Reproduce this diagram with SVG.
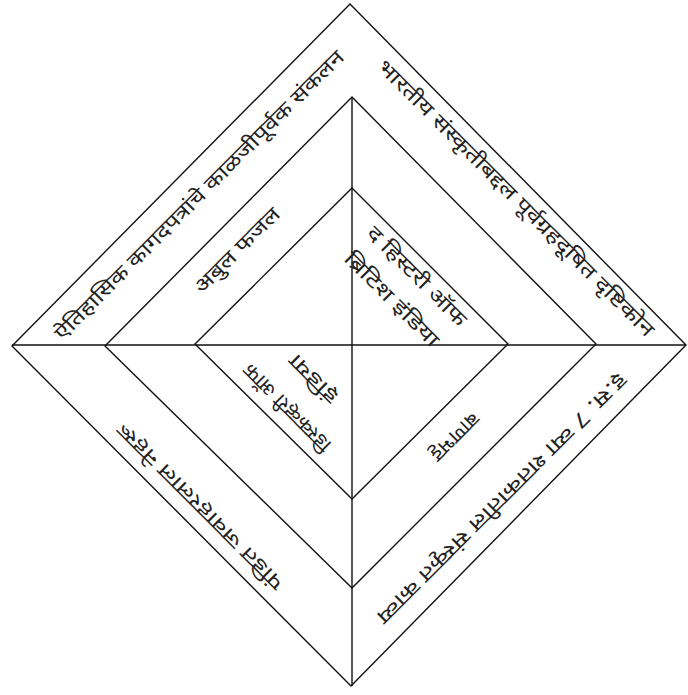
<svg xmlns="http://www.w3.org/2000/svg" width="688" height="695" viewBox="0 0 688 695">
<style>
.ln{fill:none;stroke:#111;stroke-width:1.4}
.t{font-family:"Noto Sans Devanagari","Noto Sans","Lohit Devanagari","FreeSans",sans-serif;font-size:20px;fill:#222;text-anchor:middle}
</style>
<rect width="688" height="695" fill="#fff"/>
<g id="connectors">
<path class="ln" d="M350,4 L686,345 L351,686 L12,346 Z"/>
<path class="ln" d="M352,97 L596,344 L352,588 L105,346 Z"/>
<path class="ln" d="M352,188 L508,344 L352,499 L195,344 Z"/>
<path class="ln" d="M12,345 L686,345"/>
<path class="ln" d="M352,97 L352,686"/>
</g>
<g id="ul-outer"><text class="t" dy="0.35em" textLength="400" lengthAdjust="spacingAndGlyphs" transform="translate(199,195) rotate(-45)">ऐतिहासिक कागदपत्रांचे काळजीपूर्वक संकलन</text></g>
<g id="ul-middle"><text class="t" dy="0.35em" textLength="112" lengthAdjust="spacingAndGlyphs" transform="translate(237,250) rotate(-45)">अबुल फजल</text></g>
<g id="ur-outer"><text class="t" dy="0.35em" textLength="382" lengthAdjust="spacingAndGlyphs" transform="translate(516,198) rotate(45)">भारतीय संस्कृतीबद्दल पूर्वग्रहदूषित दृष्टिकोन</text></g>
<g id="ur-inner"><text class="t" dy="0.35em" textLength="132" lengthAdjust="spacingAndGlyphs" transform="translate(417,276) rotate(45)">द हिस्टरी ऑफ</text><text class="t" dy="0.35em" textLength="125" lengthAdjust="spacingAndGlyphs" transform="translate(392,299) rotate(45)">ब्रिटिश इंडिया</text></g>
<g id="ll-outer"><text class="t" dy="0.35em" textLength="226" lengthAdjust="spacingAndGlyphs" transform="translate(200,507) rotate(225)">पंडित जवाहरलाल नेहरू</text></g>
<g id="ll-inner"><text class="t" dy="0.35em" textLength="115" lengthAdjust="spacingAndGlyphs" transform="translate(287,408) rotate(225)">डिस्कव्हरी ऑफ</text><text class="t" dy="0.35em" textLength="60" lengthAdjust="spacingAndGlyphs" transform="translate(313,379) rotate(225)">इंडिया</text></g>
<g id="lr-middle"><text class="t" dy="0.35em" textLength="60" lengthAdjust="spacingAndGlyphs" transform="translate(455,437) rotate(135)">बाणभट्ट</text></g>
<g id="lr-outer"><text class="t" dy="0.35em" textLength="344" lengthAdjust="spacingAndGlyphs" transform="translate(502,499) rotate(135)">इ.स. 7 व्या शतकातील संस्कृत काव्य</text></g>
</svg>
